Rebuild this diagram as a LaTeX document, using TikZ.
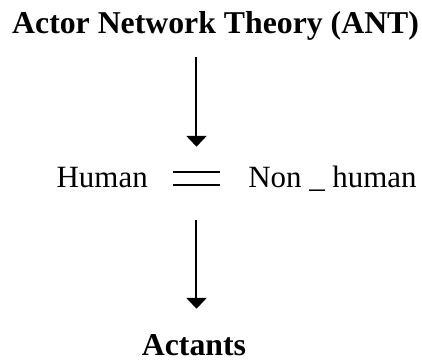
\documentclass[tikz,border=0pt]{standalone}
\usepackage{fontspec}
\setmainfont{Liberation Serif}
\usepackage{tikz}
\usetikzlibrary{arrows.meta}

\begin{document}
\begin{tikzpicture}[
    label/.style={inner sep=0pt,font=\fontsize{22}{26}\selectfont},
    heading/.style={label,font=\fontsize{22.6}{27}\selectfont\bfseries},
    flow/.style={line width=0.05cm,-{Triangle[width=0.5cm,length=0.27cm]}}
  ]
    \useasboundingbox (0,0) rectangle (10.55,-9.0);

    % Title
    \node[heading,anchor=base] (title) at (5.39,-0.825) {Actor Network Theory (ANT)};

    % Middle row
    \node[inner sep=0pt,minimum width=1.175cm,minimum height=0.325cm] (eq) at (4.9125,-4.4625) {};
    \node[label,anchor=base east] (human) at (3.7,-4.675) {Human};
    \node[label,anchor=base west] (nonhuman) at (6.2,-4.675) {Non \_ human};

    % Equals sign
    \draw[line width=0.055cm] (eq.north west) -- (eq.north east);
    \draw[line width=0.055cm] (eq.south west) -- (eq.south east);

    % Result
    \node[heading,anchor=base] (actants) at (4.85,-8.875) {Actants};

    % Arrows
    \draw[flow,shorten <=0.6cm,shorten >=0.625cm] (title.base -| eq.north) -- (eq.north);
    \draw[flow,shorten <=0.875cm,shorten >=0.625cm] (eq.south) -- (eq.south |- actants.north);
\end{tikzpicture}
\end{document}
